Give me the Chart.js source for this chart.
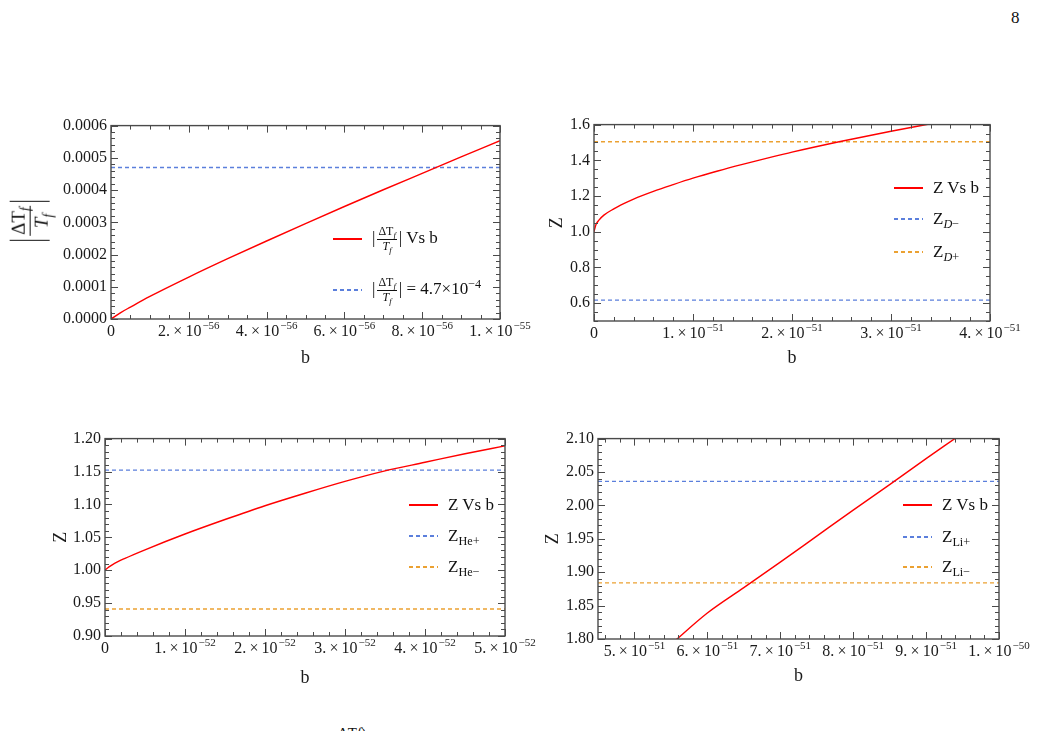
<!DOCTYPE html>
<html>
<head>
<meta charset="utf-8">
<script src="https://cdn.jsdelivr.net/npm/chart.js@4"></script>
<style>
    html, body { margin: 0; padding: 0; background: #fff; }
    body { width: 1037px; height: 731px; position: relative; overflow: hidden;
           font-family: "Liberation Serif", "DejaVu Serif", serif; color: #111; }
    canvas { position: absolute; }
    .leg { position: absolute; height: 30px; display: flex; align-items: center;
           font-size: 17px; white-space: nowrap; transform: translateY(-50%); }
    .swatch { width: 29px; height: 1.5px; margin-right: 10px; flex: none; }
    .red { background: #ff0000; }
    .blue { height: 1.3px; background: repeating-linear-gradient(to right, #5b7fdc 0 4px, transparent 4px 7px); }
    .orange { height: 1.3px; background: repeating-linear-gradient(to right, #eba132 0 4px, transparent 4px 7px); }
    .frac { display: inline-flex; flex-direction: column; align-items: center;
            vertical-align: middle; font-size: 12px; line-height: 1.15; margin: 0 2px; }
    .frac .n { border-bottom: 1px solid #111; padding: 0 1px; }
    sub { font-size: 0.72em; vertical-align: -0.35em; line-height: 0; }
    sup { font-size: 0.72em; vertical-align: 0.5em; line-height: 0; }
    .ytitle { position: absolute; left: 30px; top: 221px; display: flex; align-items: center;
              transform: translate(-50%, -50%) rotate(-90deg); }
    .ytitle .frac { font-size: 19px; }
    .tallbar { width: 0; height: 40px; border-left: 1.5px solid #111; margin: 0 2px; }
    .pagenum { position: absolute; left: 1011px; top: 8px; font-size: 17px; }
    .cut { position: absolute; left: 338px; top: 725px; font-size: 15px; }
</style>
</head>
<body>
<div class="pagenum">8</div>

<canvas id="panel1"></canvas>
<canvas id="panel2"></canvas>
<canvas id="panel3"></canvas>
<canvas id="panel4"></canvas>

<div class="ytitle">
    <span class="tallbar"></span>
    <span class="frac"><span class="n">ΔT<sub><i>f</i></sub></span><span class="d"><i>T<sub>f</sub></i></span></span>
    <span class="tallbar"></span>
</div>

<!-- legends -->
<div class="leg" style="left:333px; top:239px"><span class="swatch red"></span><span>|<span class="frac"><span class="n">ΔT<sub><i>f</i></sub></span><span class="d"><i>T<sub>f</sub></i></span></span>| Vs b</span></div>
<div class="leg" style="left:333px; top:290px"><span class="swatch blue"></span><span>|<span class="frac"><span class="n">ΔT<sub><i>f</i></sub></span><span class="d"><i>T<sub>f</sub></i></span></span>| = 4.7×10<sup>−4</sup></span></div>

<div class="leg" style="left:894px; top:188px"><span class="swatch red"></span><span>Z Vs b</span></div>
<div class="leg" style="left:894px; top:219px"><span class="swatch blue"></span><span>Z<sub><i>D</i>−</sub></span></div>
<div class="leg" style="left:894px; top:252px"><span class="swatch orange"></span><span>Z<sub><i>D</i>+</sub></span></div>

<div class="leg" style="left:409px; top:505px"><span class="swatch red"></span><span>Z Vs b</span></div>
<div class="leg" style="left:409px; top:536px"><span class="swatch blue"></span><span>Z<sub>He+</sub></span></div>
<div class="leg" style="left:409px; top:567px"><span class="swatch orange"></span><span>Z<sub>He−</sub></span></div>

<div class="leg" style="left:903px; top:505px"><span class="swatch red"></span><span>Z Vs b</span></div>
<div class="leg" style="left:903px; top:537px"><span class="swatch blue"></span><span>Z<sub>Li+</sub></span></div>
<div class="leg" style="left:903px; top:567px"><span class="swatch orange"></span><span>Z<sub>Li−</sub></span></div>

<div class="cut">ΔT<i>f</i>)</div>

<script>
// ---- data ----

// panel 1: |ΔT_f / T_f| vs b
const p1B = [0, 0.25e-56, 0.5e-56, 1e-56, 2e-56, 3e-56, 4e-56, 5e-56, 6e-56, 7e-56, 8e-56, 9e-56, 1e-55];
const p1Ratio = [0, 0.000020, 0.000037, 0.000070, 0.000130, 0.000187, 0.000242, 0.000296, 0.000349, 0.000401, 0.000452, 0.000503, 0.000553];
const p1Limit = 4.7e-4;
const p1XTicks = [0, 2e-56, 4e-56, 6e-56, 8e-56, 1e-55];
const p1YTicks = [0, 0.0001, 0.0002, 0.0003, 0.0004, 0.0005, 0.0006];

// panel 2: Z vs b (D)
const p2B = [0, 0.02e-51, 0.05e-51, 0.1e-51, 0.2e-51, 0.3e-51, 0.4e-51, 0.6e-51, 0.8e-51, 1e-51, 1.25e-51, 1.5e-51, 1.75e-51, 2e-51, 2.5e-51, 3e-51, 3.5e-51];
const p2Z = [1.0, 1.040, 1.065, 1.093, 1.128, 1.157, 1.183, 1.226, 1.264, 1.300, 1.340, 1.377, 1.412, 1.446, 1.507, 1.563, 1.615];
const p2ZDminus = 0.617;
const p2ZDplus = 1.504;
const p2XTicks = [0, 1e-51, 2e-51, 3e-51, 4e-51];
const p2YTicks = [0.6, 0.8, 1.0, 1.2, 1.4, 1.6];

// panel 3: Z vs b (He)
const p3B = [0, 0.05e-52, 0.1e-52, 0.25e-52, 0.5e-52, 1e-52, 1.5e-52, 2e-52, 2.5e-52, 3e-52, 3.5e-52, 4e-52, 4.5e-52, 5e-52];
const p3Z = [1.0, 1.005, 1.009, 1.018, 1.031, 1.055, 1.077, 1.098, 1.117, 1.135, 1.151, 1.164, 1.177, 1.189];
const p3ZHePlus = 1.152;
const p3ZHeMinus = 0.941;
const p3XTicks = [0, 1e-52, 2e-52, 3e-52, 4e-52, 5e-52];
const p3YTicks = [0.90, 0.95, 1.00, 1.05, 1.10, 1.15, 1.20];

// panel 4: Z vs b (Li)
const p4B = [5.5e-51, 6e-51, 6.5e-51, 7e-51, 7.5e-51, 8e-51, 8.5e-51, 9e-51, 9.5e-51, 1e-50];
const p4Z = [1.792, 1.839, 1.877, 1.915, 1.954, 1.993, 2.031, 2.070, 2.108, 2.147];
const p4ZLiPlus = 2.036;
const p4ZLiMinus = 1.884;
const p4XTicks = [5e-51, 6e-51, 7e-51, 8e-51, 9e-51, 1e-50];
const p4YTicks = [1.80, 1.85, 1.90, 1.95, 2.00, 2.05, 2.10];

// ---- styling ----
const RED = '#ff0000';
const BLUE = '#5b7fdc';
const ORANGE = '#eba132';
const FRAME = '#4a4a4a';
const SERIF = '"Liberation Serif", "DejaVu Serif", serif';

Chart.defaults.font.family = SERIF;
Chart.defaults.color = '#1a1a1a';

// split a tick value into "2. × 10" and "−56"
function sciParts(v) {
    if (v === 0) return { base: '0', exp: '' };
    let e = Math.floor(Math.log10(Math.abs(v)) + 1e-9);
    let m = Math.round(v / Math.pow(10, e) * 10) / 10;
    if (m >= 10) { m = m / 10; e += 1; }
    const mant = Number.isInteger(m) ? m + '.' : String(m);
    return { base: mant + '\u2009×\u200910', exp: String(e).replace('-', '−') };
}

function curve(xs, ys) {
    return xs.map((x, i) => ({ x: x, y: ys[i] }));
}

function level(xMin, xMax, y) {
    return [{ x: xMin, y: y }, { x: xMax, y: y }];
}

// frame with inward major and minor ticks on all four sides, plus x labels with superscripts
const mmaFrame = {
    id: 'mmaFrame',
    afterDraw(chart, args, opts) {
        const { ctx, chartArea } = chart;
        const { left, right, top, bottom } = chartArea;
        const xs = chart.scales.x;
        const ys = chart.scales.y;
        ctx.save();
        ctx.strokeStyle = FRAME;
        ctx.lineWidth = 1;

        const minors = (scale, div) => {
            const t = scale.ticks.map(k => k.value);
            const step = (t[1] - t[0]) / div;
            const out = [];
            for (let k = -div * 2; k <= div * (t.length + 1); k++) {
                if (k % div === 0) continue;
                const v = t[0] + k * step;
                if (v >= scale.min - step * 1e-6 && v <= scale.max + step * 1e-6) out.push(v);
            }
            return out;
        };

        const tickX = (v, len) => {
            const px = Math.round(xs.getPixelForValue(v)) + 0.5;
            ctx.beginPath();
            ctx.moveTo(px, bottom); ctx.lineTo(px, bottom - len);
            ctx.moveTo(px, top); ctx.lineTo(px, top + len);
            ctx.stroke();
        };
        const tickY = (v, len) => {
            const py = Math.round(ys.getPixelForValue(v)) + 0.5;
            ctx.beginPath();
            ctx.moveTo(left, py); ctx.lineTo(left + len, py);
            ctx.moveTo(right, py); ctx.lineTo(right - len, py);
            ctx.stroke();
        };

        xs.ticks.forEach(t => tickX(t.value, 7));
        ys.ticks.forEach(t => tickY(t.value, 7));
        minors(xs, opts.xMinor).forEach(v => tickX(v, 4));
        minors(ys, opts.yMinor).forEach(v => tickY(v, 4));

        ctx.lineWidth = 1.4;
        ctx.strokeRect(left, top, right - left, bottom - top);

        // x tick labels
        ctx.fillStyle = '#1a1a1a';
        ctx.textBaseline = 'middle';
        ctx.textAlign = 'left';
        const baseFont = '16px ' + SERIF;
        const expFont = '11px ' + SERIF;
        xs.ticks.forEach(t => {
            const parts = sciParts(t.value);
            const px = xs.getPixelForValue(t.value);
            ctx.font = baseFont;
            const wb = ctx.measureText(parts.base).width;
            ctx.font = expFont;
            const we = parts.exp ? ctx.measureText(parts.exp).width + 1 : 0;
            const x0 = px - (wb + we) / 2;
            const y0 = bottom + 13;
            ctx.font = baseFont;
            ctx.fillText(parts.base, x0, y0);
            if (parts.exp) {
                ctx.font = expFont;
                ctx.fillText(parts.exp, x0 + wb + 1, y0 - 6);
            }
        });
        ctx.restore();
    }
};

function redLine(label, data) {
    return {
        label: label,
        data: data,
        showLine: true,
        borderColor: RED,
        borderWidth: 1.4,
        pointRadius: 0,
        cubicInterpolationMode: 'monotone'
    };
}

function dashLine(label, data, color) {
    return {
        label: label,
        data: data,
        showLine: true,
        borderColor: color,
        borderWidth: 1.3,
        borderDash: [4, 3],
        pointRadius: 0
    };
}

function buildPanel(p) {
    const canvas = document.getElementById(p.id);
    const w = p.yw + (p.plot.r - p.plot.l) + p.pr;
    const h = p.pt + (p.plot.b - p.plot.t) + p.xh;
    canvas.width = w;
    canvas.height = h;
    canvas.style.width = w + 'px';
    canvas.style.height = h + 'px';
    canvas.style.left = (p.plot.l - p.yw) + 'px';
    canvas.style.top = (p.plot.t - p.pt) + 'px';

    return new Chart(canvas, {
        type: 'scatter',
        data: { datasets: p.datasets },
        options: {
            responsive: false,
            animation: false,
            devicePixelRatio: 1,
            events: [],
            layout: {
                autoPadding: false,
                padding: { left: 0, top: p.pt, right: p.pr, bottom: 0 }
            },
            plugins: {
                legend: { display: false },
                tooltip: { enabled: false },
                mmaFrame: { xMinor: p.xMinor, yMinor: p.yMinor }
            },
            scales: {
                x: {
                    type: 'linear',
                    min: p.xMin,
                    max: p.xMax,
                    grid: { display: false, drawTicks: false },
                    border: { display: false },
                    ticks: { display: false },
                    title: { display: true, text: 'b', padding: 0, font: { size: 18 } },
                    afterBuildTicks: s => { s.ticks = p.xTicks.map(v => ({ value: v })); },
                    afterFit: s => { s.height = p.xh; }
                },
                y: {
                    type: 'linear',
                    min: p.yMin,
                    max: p.yMax,
                    grid: { display: false, drawTicks: false },
                    border: { display: false },
                    ticks: {
                        padding: 4,
                        autoSkip: false,
                        font: { size: 16 },
                        callback: v => v.toFixed(p.yDigits)
                    },
                    title: { display: p.yTitle !== null, text: p.yTitle || '', padding: 0, font: { size: 18 } },
                    afterBuildTicks: s => { s.ticks = p.yTicks.map(v => ({ value: v })); },
                    afterFit: s => { s.width = p.yw; }
                }
            }
        },
        plugins: [mmaFrame]
    });
}

buildPanel({
    id: 'panel1',
    plot: { l: 111, t: 124, r: 500, b: 319 },
    yw: 100, xh: 50, pt: 12, pr: 40,
    xMin: 0, xMax: 1e-55, yMin: 0, yMax: 0.0006,
    xTicks: p1XTicks, yTicks: p1YTicks, xMinor: 4, yMinor: 5, yDigits: 4, yTitle: null,
    datasets: [
        redLine('|ΔTf/Tf| Vs b', curve(p1B, p1Ratio)),
        dashLine('|ΔTf/Tf| = 4.7×10⁻⁴', level(0, 1e-55, p1Limit), BLUE)
    ]
});

buildPanel({
    id: 'panel2',
    plot: { l: 594, t: 123, r: 990, b: 321 },
    yw: 48, xh: 48, pt: 12, pr: 40,
    xMin: 0, xMax: 4e-51, yMin: 0.5, yMax: 1.6,
    xTicks: p2XTicks, yTicks: p2YTicks, xMinor: 5, yMinor: 4, yDigits: 1, yTitle: 'Z',
    datasets: [
        redLine('Z Vs b', curve(p2B, p2Z)),
        dashLine('Z D-', level(0, 4e-51, p2ZDminus), BLUE),
        dashLine('Z D+', level(0, 4e-51, p2ZDplus), ORANGE)
    ]
});

buildPanel({
    id: 'panel3',
    plot: { l: 105, t: 437, r: 505, b: 636 },
    yw: 55, xh: 53, pt: 12, pr: 40,
    xMin: 0, xMax: 5e-52, yMin: 0.9, yMax: 1.2,
    xTicks: p3XTicks, yTicks: p3YTicks, xMinor: 5, yMinor: 5, yDigits: 2, yTitle: 'Z',
    datasets: [
        redLine('Z Vs b', curve(p3B, p3Z)),
        dashLine('Z He+', level(0, 5e-52, p3ZHePlus), BLUE),
        dashLine('Z He-', level(0, 5e-52, p3ZHeMinus), ORANGE)
    ]
});

buildPanel({
    id: 'panel4',
    plot: { l: 598, t: 437, r: 999, b: 639 },
    yw: 56, xh: 48, pt: 12, pr: 38,
    xMin: 4.5e-51, xMax: 1e-50, yMin: 1.8, yMax: 2.1,
    xTicks: p4XTicks, yTicks: p4YTicks, xMinor: 5, yMinor: 5, yDigits: 2, yTitle: 'Z',
    datasets: [
        redLine('Z Vs b', curve(p4B, p4Z)),
        dashLine('Z Li+', level(4.5e-51, 1e-50, p4ZLiPlus), BLUE),
        dashLine('Z Li-', level(4.5e-51, 1e-50, p4ZLiMinus), ORANGE)
    ]
});
</script>
</body>
</html>
